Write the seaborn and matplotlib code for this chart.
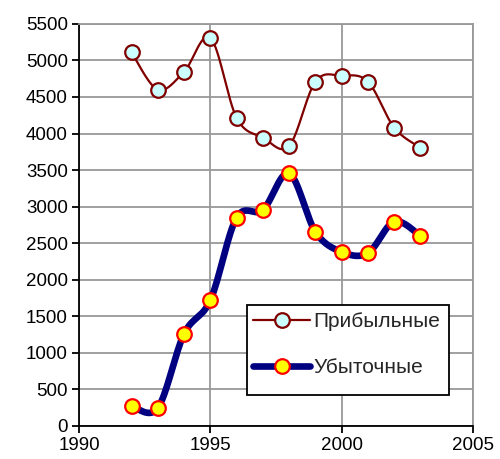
import numpy as np
import matplotlib
matplotlib.use("Agg")
import matplotlib.pyplot as plt
from matplotlib.lines import Line2D
from matplotlib.patches import Rectangle
import seaborn as sns

years = [1992, 1993, 1994, 1995, 1996, 1997, 1998, 1999, 2000, 2001, 2002, 2003]
profitable = [5110, 4600, 4845, 5310, 4215, 3945, 3830, 4710, 4790, 4710, 4080, 3805]
unprofitable = [275, 245, 1260, 1720, 2850, 2955, 3455, 2655, 2380, 2365, 2795, 2600]
labels = ["Прибыльные", "Убыточные"]


# Excel-like smoothing (Catmull-Rom Bezier through the data points)
def smooth(x, y, n=30):
    x = np.asarray(x, float)
    y = np.asarray(y, float)
    px = np.concatenate([[x[0]], x, [x[-1]]])
    py = np.concatenate([[y[0]], y, [y[-1]]])
    xs, ys = [], []
    t = np.linspace(0, 1, n)
    for i in range(1, len(px) - 2):
        p0 = np.array([px[i], py[i]])
        p3 = np.array([px[i + 1], py[i + 1]])
        c1 = p0 + (p3 - np.array([px[i - 1], py[i - 1]])) / 6
        c2 = p3 - (np.array([px[i + 2], py[i + 2]]) - p0) / 6
        b = ((1 - t) ** 3)[:, None] * p0 + (3 * (1 - t) ** 2 * t)[:, None] * c1 \
            + (3 * (1 - t) * t ** 2)[:, None] * c2 + (t ** 3)[:, None] * p3
        xs.extend(b[:, 0])
        ys.extend(b[:, 1])
    return np.array(xs), np.array(ys)


sns.set_theme(style="white")
plt.rcParams['font.family'] = ['Liberation Sans', 'DejaVu Sans']

fig = plt.figure(figsize=(5, 4.59), dpi=100)
ax = fig.add_axes([0.158, 0.072, 0.788, 0.876])

grid = "#999999"
ax.set_xlim(1990, 2005)
ax.set_ylim(0, 5500)
ax.set_xticks(range(1990, 2006, 5))
ax.set_yticks(range(0, 5501, 500))
ax.grid(True, color=grid, linewidth=1.3)
ax.set_axisbelow(True)

sx, sy = smooth(years, profitable)
sns.lineplot(x=sx, y=sy, sort=False, color="#800000", linewidth=1.6, ax=ax)
ax.plot(years, profitable, "o", markersize=10.5, markerfacecolor="#CCFFFF",
        markeredgecolor="#800000", markeredgewidth=1.6, zorder=4)

sx, sy = smooth(years, unprofitable)
sns.lineplot(x=sx, y=sy, sort=False, color="#000080", linewidth=4.8, ax=ax)
ax.plot(years, unprofitable, "o", markersize=10.5, markerfacecolor="#FFFF00",
        markeredgecolor="#FF0000", markeredgewidth=1.6, zorder=4)

for side in ["left", "bottom"]:
    ax.spines[side].set_color("black")
    ax.spines[side].set_linewidth(1.3)
for side in ["top", "right"]:
    ax.spines[side].set_color(grid)
    ax.spines[side].set_linewidth(1.3)

ax.tick_params(axis="both", direction="out", length=5, width=1.3, color="black",
               labelsize=13.5, labelcolor="black", pad=3)
ax.tick_params(left=True, bottom=True)
ax.set_xlabel("")
ax.set_ylabel("")

# legend box (Excel leaves more room below the last entry)
ax.add_patch(Rectangle((0.427, 0.077), 0.513, 0.224, transform=ax.transAxes,
                       facecolor="white", edgecolor="black", linewidth=1.3, zorder=4.5))

handles = [
    Line2D([], [], color="#800000", linewidth=1.6, marker="o", markersize=10.5,
           markerfacecolor="#CCFFFF", markeredgecolor="#800000", markeredgewidth=1.6),
    Line2D([], [], color="#000080", linewidth=4.8, marker="o", markersize=10.5,
           markerfacecolor="#FFFF00", markeredgecolor="#FF0000", markeredgewidth=1.6),
]
leg = ax.legend(handles, labels, loc="center left", bbox_to_anchor=(0.4416, 0.2015),
                frameon=False, fontsize=15, handlelength=2.75,
                handletextpad=0.15, borderpad=0, borderaxespad=0,
                labelspacing=1.3)
leg.set_zorder(5)

fig.savefig("out.png", dpi=100)
